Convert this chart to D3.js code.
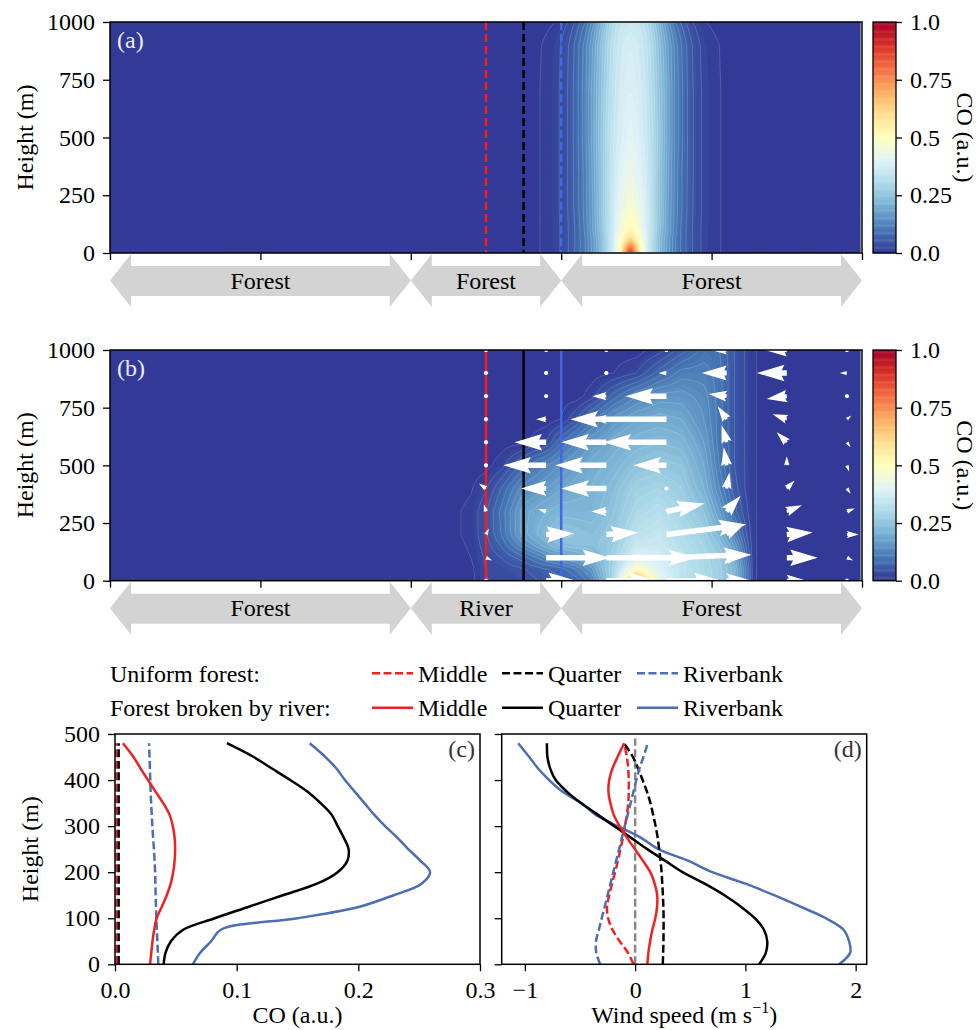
<!DOCTYPE html>
<html>
<head>
<meta charset="utf-8">
<script src="https://cdn.jsdelivr.net/npm/d3@7"></script>
<style>
  body { margin: 0; background: #fff; }
  svg  { display: block; }
</style>
</head>
<body>
<svg id="fig" width="978" height="1030"></svg>
<script>
/* ── data ──────────────────────────────────────────────────────────── */

// surface segments along the transect (km) and their names
const regionBounds = [0, 2, 3, 5];
const regionNamesA = ['Forest', 'Forest', 'Forest'];
const regionNamesB = ['Forest', 'River', 'Forest'];

const xTicksKm   = [0, 1, 2, 3, 4, 5];
const hTicks     = [0, 250, 500, 750, 1000];
const cbarTicks  = [0, 0.25, 0.5, 0.75, 1.0];

// profile sites (km)
const siteNames = ['Middle', 'Quarter', 'Riverbank'];
const siteX     = [2.5, 2.75, 3.0];

// (a) uniform forest: CO across the plume, by distance from plume axis (km)
const plumeCentreA = 3.46;
const offsetsA = [0, 0.05, 0.1, 0.15, 0.2, 0.25, 0.3, 0.35, 0.4, 0.45, 0.5, 0.6, 0.7, 0.8, 0.9, 1.0];
const heightsA = [0, 25, 60, 100, 200, 350, 500, 700, 900, 960, 1000];
const coFieldA = [
  [0.90, 0.62, 0.40, 0.30, 0.22, 0.16, 0.110, 0.080, 0.055, 0.035, 0.022, 0.010, 0.003, 0.0015, 0.001, 0],
  [0.80, 0.60, 0.40, 0.30, 0.22, 0.16, 0.110, 0.080, 0.055, 0.035, 0.022, 0.010, 0.003, 0.0015, 0.001, 0],
  [0.62, 0.53, 0.40, 0.30, 0.22, 0.16, 0.110, 0.080, 0.055, 0.035, 0.022, 0.010, 0.003, 0.0015, 0.001, 0],
  [0.53, 0.48, 0.39, 0.31, 0.23, 0.17, 0.115, 0.080, 0.055, 0.035, 0.022, 0.010, 0.003, 0.0015, 0.001, 0],
  [0.47, 0.44, 0.38, 0.31, 0.24, 0.17, 0.120, 0.085, 0.057, 0.036, 0.023, 0.010, 0.003, 0.0015, 0.001, 0],
  [0.43, 0.41, 0.37, 0.31, 0.24, 0.175, 0.120, 0.085, 0.058, 0.036, 0.023, 0.010, 0.003, 0.0015, 0.001, 0],
  [0.41, 0.39, 0.36, 0.31, 0.245, 0.18, 0.125, 0.088, 0.058, 0.036, 0.023, 0.010, 0.003, 0.0015, 0.001, 0],
  [0.39, 0.38, 0.35, 0.30, 0.24, 0.18, 0.125, 0.088, 0.058, 0.036, 0.023, 0.010, 0.003, 0.0015, 0.001, 0],
  [0.38, 0.37, 0.34, 0.29, 0.23, 0.17, 0.120, 0.084, 0.055, 0.034, 0.021, 0.009, 0.002, 0.001, 0.0005, 0],
  [0.37, 0.36, 0.33, 0.28, 0.215, 0.155, 0.105, 0.072, 0.045, 0.027, 0.015, 0.005, 0.001, 0.0005, 0, 0],
  [0.36, 0.35, 0.32, 0.27, 0.20, 0.14, 0.090, 0.060, 0.035, 0.020, 0.010, 0.003, 0.0005, 0, 0, 0],
];

// (b) forest broken by river: CO on an x (km) / height (m) grid
const xsB      = [2.2, 2.4, 2.5, 2.6, 2.75, 2.9, 3.0, 3.1, 3.2, 3.35, 3.5, 3.65, 3.8, 3.95, 4.05, 4.15, 4.22, 4.28, 4.4];
const heightsB = [0, 50, 100, 150, 200, 300, 400, 500, 600, 700, 800, 900, 1000];
const coFieldB = [
  [0, 0.003, 0.029, 0.033, 0.040, 0.055, 0.064, 0.08, 0.12, 0.30, 0.75, 0.42, 0.33, 0.30, 0.28, 0.22, 0.12, 0.012, 0],
  [0, 0.005, 0.031, 0.037, 0.048, 0.068, 0.081, 0.11, 0.16, 0.30, 0.50, 0.40, 0.34, 0.30, 0.28, 0.22, 0.12, 0.012, 0],
  [0, 0.010, 0.034, 0.050, 0.082, 0.130, 0.155, 0.18, 0.21, 0.28, 0.40, 0.38, 0.33, 0.30, 0.27, 0.20, 0.10, 0.012, 0],
  [0, 0.012, 0.041, 0.070, 0.140, 0.200, 0.232, 0.24, 0.24, 0.27, 0.36, 0.36, 0.32, 0.29, 0.25, 0.17, 0.08, 0.012, 0],
  [0, 0.015, 0.047, 0.090, 0.183, 0.230, 0.258, 0.25, 0.24, 0.26, 0.33, 0.35, 0.31, 0.28, 0.22, 0.13, 0.06, 0.012, 0],
  [0, 0.015, 0.048, 0.095, 0.183, 0.210, 0.222, 0.22, 0.22, 0.25, 0.30, 0.32, 0.29, 0.25, 0.17, 0.08, 0.04, 0.012, 0],
  [0, 0.008, 0.027, 0.070, 0.144, 0.170, 0.189, 0.20, 0.21, 0.24, 0.28, 0.29, 0.27, 0.21, 0.13, 0.06, 0.03, 0.012, 0],
  [0, 0, 0.003, 0.020, 0.080, 0.130, 0.155, 0.18, 0.20, 0.22, 0.25, 0.26, 0.25, 0.19, 0.11, 0.05, 0.03, 0.012, 0],
  [0, 0, 0, 0, 0.005, 0.030, 0.090, 0.13, 0.17, 0.20, 0.22, 0.23, 0.22, 0.17, 0.10, 0.05, 0.03, 0.012, 0],
  [0, 0, 0, 0, 0, 0, 0.010, 0.05, 0.10, 0.16, 0.19, 0.20, 0.19, 0.15, 0.10, 0.05, 0.03, 0.012, 0],
  [0, 0, 0, 0, 0, 0, 0, 0, 0.02, 0.08, 0.13, 0.16, 0.16, 0.14, 0.10, 0.05, 0.03, 0.012, 0],
  [0, 0, 0, 0, 0, 0, 0, 0, 0, 0.01, 0.03, 0.08, 0.12, 0.12, 0.10, 0.05, 0.03, 0.012, 0],
  [0, 0, 0, 0, 0, 0, 0, 0, 0, 0, 0, 0.02, 0.06, 0.10, 0.09, 0.05, 0.03, 0.012, 0],
];

// (b) wind vectors (m/s): rows = quiverH, cols = quiverX
const quiverX = [2.5, 2.9, 3.3, 3.7, 4.1, 4.5, 4.9];
const quiverH = [0, 100, 200, 300, 400, 500, 600, 700, 800, 900, 1000];
const quiverU = [
  [ 0.14,  0.83,  1.39,  1.53,  0.69,  0.56,  0.10],
  [ 0.17,  1.78,  2.50,  2.36,  0.56,  0.86,  0.17],
  [ 0.08,  0.78,  0.89,  2.22,  0.42,  0.72,  0.33],
  [-0.06, -0.22, -0.42,  1.06,  0.39,  0.42,  0.22],
  [-0.20, -0.70, -1.25, -0.08,  0.08,  0.22,  0.10],
  [-0.10, -1.19, -1.42, -0.92, -0.08,  0.00,  0.06],
  [ 0.00, -0.88, -1.25, -1.75, -0.14, -0.28,  0.10],
  [ 0.00, -0.28, -0.42, -2.67, -0.25, -0.39,  0.12],
  [ 0.00,  0.00, -0.39, -1.14, -0.50, -0.56,  0.00],
  [ 0.00,  0.00, -0.14, -0.22, -0.69, -0.83, -0.20],
  [ 0.00,  0.00, -0.14, -0.10, -0.42, -0.61, -0.15],
];
const quiverW = [
  [ 0.00, 0.00, 0.00, 0.00, 0.00,  0.00,  0.00],
  [-0.08, 0.00, 0.00, 0.08, 0.10,  0.00, -0.08],
  [ 0.17, 0.03, 0.06, 0.28, 0.22,  0.06,  0.00],
  [ 0.20, 0.06, 0.00, 0.22, 0.44,  0.17,  0.08],
  [ 0.14, 0.00, 0.00, 0.08, 0.44,  0.22, -0.15],
  [ 0.05, 0.00, 0.00, 0.00, 0.50,  0.25, -0.17],
  [ 0.00, 0.00, 0.00, 0.00, 0.47,  0.28, -0.14],
  [ 0.00, 0.00, 0.00, 0.00, 0.36,  0.14,  0.10],
  [ 0.00, 0.00, 0.00, 0.00, 0.06, -0.08,  0.00],
  [ 0.00, 0.00, 0.00, 0.00, 0.00,  0.00,  0.00],
  [ 0.00, 0.00, 0.00, 0.00, 0.00,  0.00,  0.00],
];

// (c), (d) vertical profiles
const profileH = [0, 25, 50, 75, 100, 125, 150, 175, 200, 225, 250, 275, 300, 325, 350, 375, 400, 425, 450, 480];

const coMiddleU  = [0.0012, 0.0012, 0.0012, 0.0012, 0.0012, 0.0012, 0.0012, 0.0012, 0.0012, 0.0012, 0.0012, 0.0012, 0.0012, 0.0012, 0.0012, 0.0012, 0.0012, 0.0012, 0.0012, 0.0012];
const coQuarterU = [0.003, 0.003, 0.003, 0.003, 0.003, 0.003, 0.003, 0.003, 0.003, 0.003, 0.003, 0.003, 0.003, 0.003, 0.003, 0.003, 0.003, 0.003, 0.003, 0.003];
const coRiverU   = [0.0356, 0.0352, 0.0348, 0.0344, 0.034, 0.0337, 0.0334, 0.0332, 0.033, 0.0325, 0.032, 0.0313, 0.0307, 0.0302, 0.0297, 0.0293, 0.029, 0.0287, 0.0284, 0.028];
const coMiddleR  = [0.0288, 0.0298, 0.0308, 0.0322, 0.0342, 0.0385, 0.0425, 0.0458, 0.0478, 0.049, 0.0494, 0.049, 0.0475, 0.0448, 0.0396, 0.0333, 0.0272, 0.021, 0.0152, 0.0065];
const coQuarterR = [0.040, 0.0415, 0.046, 0.056, 0.082, 0.110, 0.138, 0.166, 0.183, 0.191, 0.192, 0.188, 0.183, 0.178, 0.169, 0.158, 0.144, 0.129, 0.114, 0.092];
const coRiverR   = [0.064, 0.070, 0.079, 0.087, 0.150, 0.201, 0.229, 0.252, 0.259, 0.251, 0.241, 0.232, 0.222, 0.213, 0.205, 0.197, 0.189, 0.182, 0.173, 0.160];

const uMiddleU  = [-0.015, -0.065, -0.14, -0.205, -0.245, -0.255, -0.235, -0.21, -0.182, -0.156, -0.134, -0.11, -0.092, -0.075, -0.062, -0.058, -0.058, -0.063, -0.075, -0.1];
const uQuarterU = [0.251, 0.254, 0.257, 0.258, 0.258, 0.256, 0.252, 0.246, 0.24, 0.23, 0.218, 0.204, 0.186, 0.163, 0.139, 0.107, 0.068, 0.027, -0.02, -0.1];
const uRiverU   = [-0.317, -0.352, -0.355, -0.329, -0.303, -0.276, -0.25, -0.224, -0.198, -0.172, -0.145, -0.12, -0.094, -0.067, -0.041, -0.015, 0.011, 0.039, 0.075, 0.115];
const uMiddleR  = [0.111, 0.12, 0.136, 0.156, 0.183, 0.199, 0.2, 0.177, 0.138, 0.07, -0.002, -0.075, -0.14, -0.195, -0.225, -0.242, -0.235, -0.206, -0.16, -0.1];
const uQuarterR = [1.124, 1.185, 1.198, 1.168, 1.085, 0.96, 0.81, 0.63, 0.43, 0.27, 0.11, -0.04, -0.19, -0.34, -0.49, -0.62, -0.72, -0.77, -0.795, -0.8];
const uRiverR   = [1.85, 1.95, 1.94, 1.89, 1.73, 1.50, 1.26, 1.0, 0.70, 0.48, 0.21, 0.05, -0.16, -0.36, -0.49, -0.66, -0.78, -0.88, -0.96, -1.06];
const zeroRefH  = [0, 490];

const legendRowNames = ['Uniform forest:', 'Forest broken by river:'];

/* ── style ─────────────────────────────────────────────────────────── */

const FS = 24;
const FONT = '"Liberation Serif"';
const BREWER = ['#313695', '#4575b4', '#74add1', '#abd9e9', '#e0f3f8', '#ffffbf',
                '#fee090', '#fdae61', '#f46d43', '#d73027', '#a50026'];
const coColor = d3.scaleLinear().domain(d3.range(11).map(i => i / 10)).range(BREWER).clamp(true);
const siteLineColor = ['#ff1a1a', '#000000', '#4169e1'];   // panels (a),(b)
const siteProfColor = ['#ee2222', '#000000', '#4b6eb4'];   // panels (c),(d) + legend
const QW = 5.5;             // quiver shaft width, px
const arrowPxPerMs = 36;    // quiver length scale
const fillLevels = d3.range(0, 1.0001, 0.01);
const lineLevels = d3.range(0.01, 0.6, 0.02);

const panA = { x0: 110,   x1: 862,   y0: 22,  y1: 253 };
const panB = { x0: 110,   x1: 862,   y0: 350, y1: 580.7 };
const panC = { x0: 115,   x1: 480,   y0: 734, y1: 964.3 };
const panD = { x0: 501.7, x1: 866.7, y0: 734, y1: 964.3 };
const cbX0 = 873, cbX1 = 896;

const svg = d3.select('#fig').style('font-family', FONT);
const defs = svg.append('defs');

function txt(sel) { return sel.append('text').style('font-family', FONT).attr('font-size', FS); }

/* ── field lookups ─────────────────────────────────────────────────── */

const rowScalesA = coFieldA.map(r => d3.scaleLinear().domain(offsetsA).range(r).clamp(true));
const rowIdxA    = d3.scaleLinear().domain(heightsA).range(d3.range(heightsA.length)).clamp(true);
function coA(xk, h) {
  const off = Math.abs(xk - plumeCentreA);
  const f = rowIdxA(h), i0 = Math.floor(f), i1 = Math.min(i0 + 1, heightsA.length - 1), t = f - i0;
  return rowScalesA[i0](off) * (1 - t) + rowScalesA[i1](off) * t;
}

const rowScalesB = coFieldB.map(r => d3.scaleLinear().domain(xsB).range(r).clamp(true));
const rowIdxB    = d3.scaleLinear().domain(heightsB).range(d3.range(heightsB.length)).clamp(true);
function coB(xk, h) {
  const f = rowIdxB(h), i0 = Math.floor(f), i1 = Math.min(i0 + 1, heightsB.length - 1), t = f - i0;
  return rowScalesB[i0](xk) * (1 - t) + rowScalesB[i1](xk) * t;
}

/* ── helpers ───────────────────────────────────────────────────────── */

function styleAxis(g) {
  g.attr('font-family', null);
  g.selectAll('path.domain').remove();
  g.selectAll('line').attr('stroke', '#000').attr('stroke-width', 1.3);
  g.selectAll('text').attr('font-size', FS).attr('fill', '#000').style('font-family', FONT);
}

function frame(p) {
  svg.append('rect')
    .attr('x', p.x0).attr('y', p.y0)
    .attr('width', p.x1 - p.x0).attr('height', p.y1 - p.y0)
    .attr('fill', 'none').attr('stroke', '#000').attr('stroke-width', 1.5);
}

function clipFor(id, p) {
  defs.append('clipPath').attr('id', id).append('rect')
    .attr('x', p.x0).attr('y', p.y0).attr('width', p.x1 - p.x0).attr('height', p.y1 - p.y0);
  return `url(#${id})`;
}

function drawField(g, p, xs, ys, fn, xEndKm) {
  const w = xs(xEndKm) - p.x0, h = p.y1 - p.y0;
  const n = Math.round(w / 2), m = Math.round(h / 2);
  const vals = new Float64Array(n * m);
  for (let j = 0; j < m; j++) {
    const hh = ys.invert(p.y0 + (j + 0.5) * h / m);
    for (let i = 0; i < n; i++) vals[j * n + i] = fn(xs.invert(p.x0 + (i + 0.5) * w / n), hh);
  }
  const path = d3.geoPath(d3.geoTransform({
    point(px, py) { this.stream.point(p.x0 + px * w / n, p.y0 + py * h / m); }
  }));
  g.append('g').selectAll('path')
    .data(d3.contours().size([n, m]).thresholds(fillLevels)(vals))
    .join('path')
    .attr('d', path)
    .attr('fill', d => coColor(d.value + 0.005))
    .attr('stroke', d => coColor(d.value + 0.005)).attr('stroke-width', 0.3);
  g.append('g').selectAll('path')
    .data(d3.contours().size([n, m]).thresholds(lineLevels)(vals))
    .join('path')
    .attr('d', path)
    .attr('fill', 'none')
    .attr('stroke', '#ffffff').attr('stroke-opacity', 0.25).attr('stroke-width', 0.7);
}

function quiverShape(len) {
  const sw = QW / 2, hw = 1.5 * QW, hl = 5 * QW, ha = 4.5 * QW;
  if (len < QW) return d3.range(6).map(k => [QW / 2.4 * Math.cos(k * Math.PI / 3), QW / 2.4 * Math.sin(k * Math.PI / 3)]);
  const L = Math.max(len, hl), k = len < hl ? len / hl : 1;
  return [[0, sw], [L - ha, sw], [L - hl, hw], [L, 0], [L - hl, -hw], [L - ha, -sw], [0, -sw]]
    .map(q => [q[0] * k, q[1] * k]);
}

function regionArrows(p, xs, names, yTop) {
  const bodyT = yTop + 13, bodyB = yTop + 43, headT = yTop + 1, headB = yTop + 54, hl = 21;
  const yc = (headT + headB) / 2;
  const g = svg.append('g');
  names.forEach((name, i) => {
    const xa = xs(regionBounds[i]), xb = xs(regionBounds[i + 1]);
    const pts = [[xa, yc], [xa + hl, headT], [xa + hl, bodyT], [xb - hl, bodyT], [xb - hl, headT],
                 [xb, yc], [xb - hl, headB], [xb - hl, bodyB], [xa + hl, bodyB], [xa + hl, headB]];
    g.append('polygon').attr('points', pts.map(q => q.join(',')).join(' ')).attr('fill', '#d3d3d3');
    txt(g).attr('x', (xa + xb) / 2).attr('y', yc + 8).attr('text-anchor', 'middle').text(name);
  });
}

function colorbar(p) {
  const cy = d3.scaleLinear().domain([0, 1]).range([p.y1, p.y0]);
  const steps = d3.range(0, 1, 1 / 200);
  svg.append('g').selectAll('rect').data(steps).join('rect')
    .attr('x', cbX0).attr('width', cbX1 - cbX0)
    .attr('y', d => cy(d + 1 / 200)).attr('height', cy(0) - cy(1 / 200) + 0.4)
    .attr('fill', d => coColor(d + 1 / 400));
  svg.append('rect').attr('x', cbX0).attr('y', p.y0).attr('width', cbX1 - cbX0).attr('height', p.y1 - p.y0)
    .attr('fill', 'none').attr('stroke', '#000').attr('stroke-width', 1.3);
  svg.append('g').attr('transform', `translate(${cbX1},0)`)
    .call(d3.axisRight(cy).tickValues(cbarTicks).tickSize(6).tickPadding(8)
      .tickFormat(d => d === 0 ? '0.0' : d === 1 ? '1.0' : String(d)))
    .call(styleAxis);
  txt(svg).attr('transform', `translate(957,${(p.y0 + p.y1) / 2}) rotate(90)`)
    .attr('text-anchor', 'middle').text('CO (a.u.)');
}

/* ── panels (a) and (b) ────────────────────────────────────────────── */

function contourPanel(p, fn, label, dashed, names, idx) {
  const xs = d3.scaleLinear().domain([0, 5]).range([p.x0, p.x1]);
  const ys = d3.scaleLinear().domain([0, 1000]).range([p.y1, p.y0]);
  const g = svg.append('g').attr('clip-path', clipFor('clip' + idx, p));

  drawField(g, p, xs, ys, fn, 4.99);

  siteX.forEach((sx, i) => {
    g.append('line')
      .attr('x1', xs(sx)).attr('x2', xs(sx)).attr('y1', p.y0).attr('y2', p.y1)
      .attr('stroke', siteLineColor[i]).attr('stroke-width', 2.5)
      .attr('stroke-dasharray', dashed ? '8,4' : null);
  });

  if (idx === 'b') {
    const vec = [];
    quiverH.forEach((h, r) => quiverX.forEach((qx, c) => {
      vec.push({ x: qx, h, u: quiverU[r][c], w: quiverW[r][c] });
    }));
    g.append('g').selectAll('polygon').data(vec).join('polygon')
      .attr('points', d => {
        const dx = d.u * arrowPxPerMs, dy = d.w * arrowPxPerMs;
        return quiverShape(Math.hypot(dx, dy)).map(q => q.join(',')).join(' ');
      })
      .attr('transform', d => {
        const ang = Math.atan2(-d.w, d.u) * 180 / Math.PI;
        return `translate(${xs(d.x)},${ys(d.h)}) rotate(${ang})`;
      })
      .attr('fill', '#fff');
  }

  txt(svg).attr('x', p.x0 + 7).attr('y', p.y0 + 26).attr('fill', '#ececf4').text(label);

  svg.append('g').attr('transform', `translate(0,${p.y1})`)
    .call(d3.axisBottom(xs).tickValues(xTicksKm).tickSize(7).tickFormat(''))
    .call(styleAxis);
  svg.append('g').attr('transform', `translate(${p.x0},0)`)
    .call(d3.axisLeft(ys).tickValues(hTicks).tickSize(7).tickPadding(8).tickFormat(d3.format('d')))
    .call(styleAxis);
  txt(svg).attr('transform', `translate(33,${(p.y0 + p.y1) / 2}) rotate(-90)`)
    .attr('text-anchor', 'middle').text('Height (m)');

  frame(p);
  colorbar(p);
  regionArrows(p, xs, names, p.y1);
}

contourPanel(panA, coA, '(a)', true, regionNamesA, 'a');
contourPanel(panB, coB, '(b)', false, regionNamesB, 'b');

/* ── legend ────────────────────────────────────────────────────────── */

const legendY   = [673.3, 707.7];
const legendX   = [372, 502, 637];
legendRowNames.forEach((name, r) => {
  txt(svg).attr('x', 110).attr('y', legendY[r] + 8.5).text(name);
  siteNames.forEach((s, i) => {
    svg.append('line')
      .attr('x1', legendX[i]).attr('x2', legendX[i] + 41)
      .attr('y1', legendY[r]).attr('y2', legendY[r])
      .attr('stroke', siteProfColor[i]).attr('stroke-width', 2.5)
      .attr('stroke-dasharray', r === 0 ? '8,3.5' : null);
    txt(svg).attr('x', legendX[i] + 46).attr('y', legendY[r] + 8.5).text(s);
  });
});

/* ── panels (c) and (d) ────────────────────────────────────────────── */

function profilePanel(p, domain, series, tickVals, fmt, showY, label, xlabel, zeroLine, idx) {
  const xs = d3.scaleLinear().domain(domain).range([p.x0, p.x1]);
  const ys = d3.scaleLinear().domain([0, 500]).range([p.y1, p.y0]);
  const g = svg.append('g').attr('clip-path', clipFor('clip' + idx, p));
  const line = d3.line().x(d => xs(d[0])).y(d => ys(d[1])).curve(d3.curveCatmullRom);

  if (zeroLine) {
    g.append('path').attr('d', line(zeroRefH.map(h => [0, h])))
      .attr('fill', 'none').attr('stroke', '#888').attr('stroke-width', 2.5).attr('stroke-dasharray', '8,3.5');
  }
  series.forEach(s => {
    g.append('path').attr('d', line(s.values.map((v, i) => [v, profileH[i]])))
      .attr('fill', 'none').attr('stroke', siteProfColor[s.site]).attr('stroke-width', 2.5)
      .attr('stroke-dasharray', s.dashed ? '8,3.5' : null);
  });

  svg.append('g').attr('transform', `translate(0,${p.y1})`)
    .call(d3.axisBottom(xs).tickValues(tickVals).tickSize(7).tickPadding(10).tickFormat(fmt))
    .call(styleAxis);
  svg.append('g').attr('transform', `translate(${p.x0},0)`)
    .call(d3.axisLeft(ys).tickValues(d3.range(0, 501, 100)).tickSize(7).tickPadding(8)
      .tickFormat(showY ? d3.format('d') : ''))
    .call(styleAxis);
  frame(p);

  txt(svg).attr('x', p.x1 - 5).attr('y', p.y0 + 23).attr('text-anchor', 'end')
    .attr('fill', '#333').text(label);
  const xl = txt(svg).attr('x', (p.x0 + p.x1) / 2).attr('y', 1023).attr('text-anchor', 'middle');
  xlabel(xl);
  if (showY) {
    txt(svg).attr('transform', `translate(38,${(p.y0 + p.y1) / 2}) rotate(-90)`)
      .attr('text-anchor', 'middle').text('Height (m)');
  }
}

profilePanel(panC, [0, 0.3], [
  { site: 0, dashed: true,  values: coMiddleU },
  { site: 1, dashed: true,  values: coQuarterU },
  { site: 2, dashed: true,  values: coRiverU },
  { site: 2, dashed: false, values: coRiverR },
  { site: 1, dashed: false, values: coQuarterR },
  { site: 0, dashed: false, values: coMiddleR },
], [0, 0.1, 0.2, 0.3], d3.format('.1f'), true, '(c)',
  t => t.text('CO (a.u.)'), false, 'c');

profilePanel(panD, [-1.21, 2.1], [
  { site: 2, dashed: false, values: uRiverR },
  { site: 1, dashed: false, values: uQuarterR },
  { site: 0, dashed: true,  values: uMiddleU },
  { site: 1, dashed: true,  values: uQuarterU },
  { site: 2, dashed: true,  values: uRiverU },
  { site: 0, dashed: false, values: uMiddleR },
], [-1, 0, 1, 2], d => d < 0 ? '\u2212' + Math.abs(d) : String(d), false, '(d)',
  t => {
    t.append('tspan').text('Wind speed (m s');
    t.append('tspan').attr('font-size', 16).attr('dy', -10).text('\u22121');
    t.append('tspan').attr('dy', 10).text(')');
  }, true, 'd');
</script>
</body>
</html>
